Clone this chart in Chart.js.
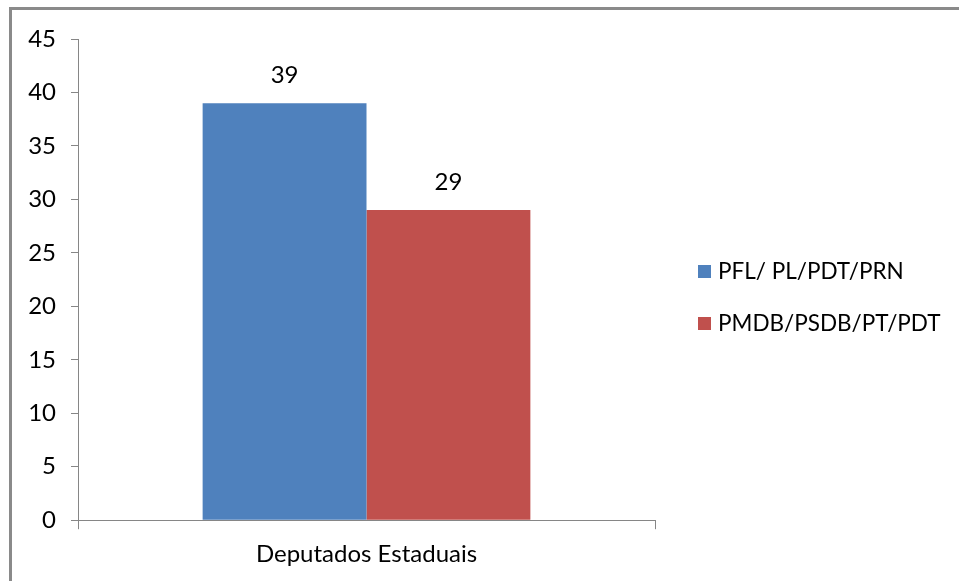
<!DOCTYPE html>
<html>
<head>
<meta charset="utf-8">
<script src="https://cdn.jsdelivr.net/npm/chart.js@4.4.0/dist/chart.umd.min.js"></script>
<style>
  html, body { margin: 0; padding: 0; background: #fff; overflow: hidden; font-family: Lato; }
  #wrap { position: absolute; left: 0; top: 0; width: 959px; height: 581px; }
  #frame { position: absolute; left: 9px; top: 7px; width: 1000px; height: 700px;
           border-top: 3px solid #8a8a8a; border-left: 3px solid #8a8a8a; box-sizing: border-box; pointer-events: none; }
  canvas { position: absolute; left: 0; top: 0; }
</style>
</head>
<body>
<div id="wrap">
  <canvas id="c" width="959" height="581"></canvas>
  <div id="frame"></div>
</div>
<script>
const categories = ["Deputados Estaduais"];
const seriesNames = ["PFL/ PL/PDT/PRN", "PMDB/PSDB/PT/PDT"];
const seriesA = [39];
const seriesB = [29];
const yTicks = [0, 5, 10, 15, 20, 25, 30, 35, 40, 45];

const FONT = "Lato";
const FS = 24;
const LEG_FS = 22.5;
const AXIS = "#868686";

const valueLabels = {
  id: "valueLabels",
  afterDatasetsDraw(chart) {
    const ctx = chart.ctx;
    ctx.save();
    ctx.font = `${FS}px ${FONT}`;
    ctx.fillStyle = "#000";
    ctx.textAlign = "center";
    ctx.textBaseline = "middle";
    chart.data.datasets.forEach((ds, i) => {
      const meta = chart.getDatasetMeta(i);
      meta.data.forEach((bar, j) => {
        ctx.fillText(String(ds.data[j]), bar.x, bar.y - 28);
      });
    });
    ctx.restore();
  }
};

// Legend drawn from the datasets, placed to the right of the plot area
const sideLegend = {
  id: "sideLegend",
  afterDraw(chart) {
    const ctx = chart.ctx;
    const area = chart.chartArea;
    const box = 13, gapX = 43, textGap = 7, step = 52;
    const n = chart.data.datasets.length;
    const cy = (area.top + area.bottom) / 2 + 18;
    const y0 = cy - (n - 1) * step / 2;
    ctx.save();
    ctx.font = `${LEG_FS}px ${FONT}`;
    ctx.textAlign = "left";
    ctx.textBaseline = "middle";
    chart.data.datasets.forEach((ds, i) => {
      const y = y0 + i * step;
      const x = area.right + gapX;
      ctx.fillStyle = ds.backgroundColor;
      ctx.fillRect(x, Math.round(y - box / 2), box, box);
      ctx.fillStyle = "#000";
      ctx.fillText(ds.label, x + box + textGap, y);
    });
    ctx.restore();
  }
};

function build() {
  new Chart(document.getElementById("c"), {
    type: "bar",
    data: {
      labels: categories,
      datasets: [
        { label: seriesNames[0], data: seriesA, backgroundColor: "#4F81BD", borderWidth: 0,
          categoryPercentage: 0.568, barPercentage: 1.0 },
        { label: seriesNames[1], data: seriesB, backgroundColor: "#C0504D", borderWidth: 0,
          categoryPercentage: 0.568, barPercentage: 1.0 }
      ]
    },
    options: {
      responsive: false,
      animation: false,
      devicePixelRatio: 1,
      layout: { padding: { top: 39, left: 0, right: 304, bottom: 1 } },
      plugins: {
        tooltip: { enabled: false },
        legend: { display: false }
      },
      scales: {
        x: {
          grid: { display: true, drawOnChartArea: false, offset: true, tickLength: 9, color: AXIS },
          border: { display: true, color: AXIS },
          ticks: { color: "#000", padding: 11, font: { family: FONT, size: FS } }
        },
        y: {
          min: 0, max: 45,
          afterBuildTicks(scale) { scale.ticks = yTicks.map(v => ({ value: v })); },
          afterFit(scale) { scale.width = 78; },
          grid: { display: true, drawOnChartArea: false, tickLength: 7, color: AXIS },
          border: { display: true, color: AXIS },
          ticks: { color: "#000", padding: 15, font: { family: FONT, size: FS } }
        }
      }
    },
    plugins: [valueLabels, sideLegend]
  });
}

if (document.fonts && document.fonts.load) {
  document.fonts.load(`${FS}px ${FONT}`).then(build, build);
} else {
  build();
}
</script>
</body>
</html>
